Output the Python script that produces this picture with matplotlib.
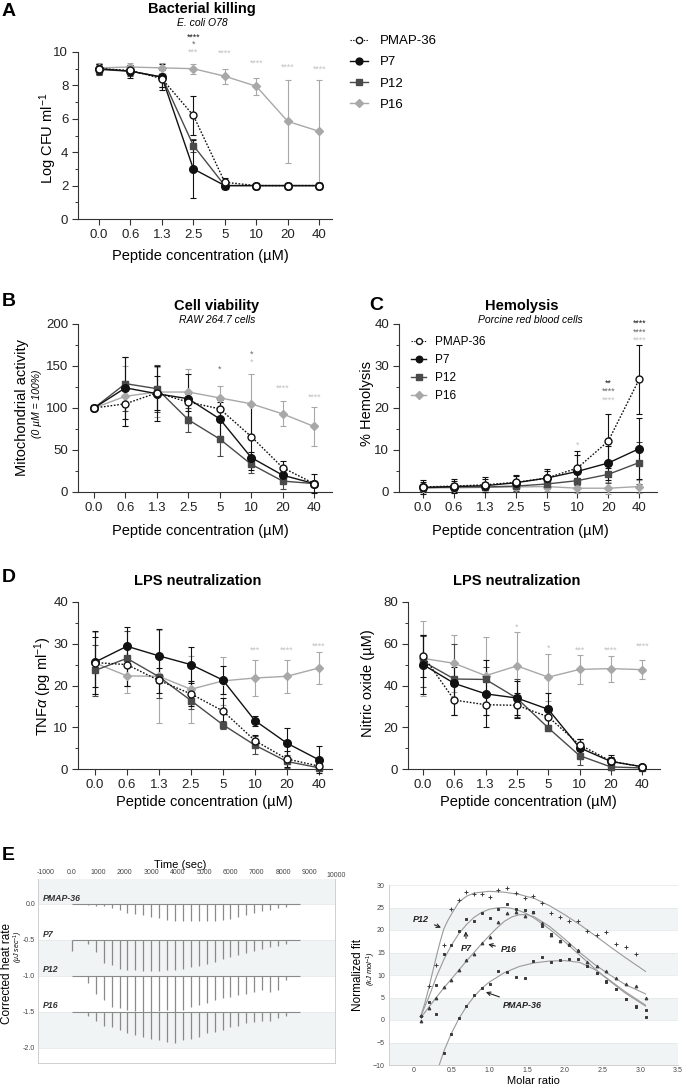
import matplotlib
matplotlib.use("Agg")
import numpy as np
import matplotlib.pyplot as plt
from matplotlib.lines import Line2D
from matplotlib.ticker import MultipleLocator

plt.rcParams['font.family'] = ['Liberation Sans', 'DejaVu Sans']
plt.rcParams['mathtext.fontset'] = 'custom'
plt.rcParams['mathtext.rm'] = 'Liberation Sans'
plt.rcParams['mathtext.it'] = 'Liberation Sans:italic'
plt.rcParams['mathtext.bf'] = 'Liberation Sans:bold'

# ---------------- data ----------------
conc_labels = ["0.0", "0.6", "1.3", "2.5", "5", "10", "20", "40"]
peptides = ["PMAP-36", "P7", "P12", "P16"]

# A: bacterial killing (log CFU/ml)
kill_pmap = [9.0, 8.9, 8.4, 6.2, 2.2, 2.0, 2.0, 2.0]
kill_pmap_err = [0.3, 0.3, 0.5, 1.15, 0.25, 0.05, 0.05, 0.05]
kill_p7 = [9.0, 8.85, 8.5, 3.0, 2.0, 2.0, 2.0, 2.0]
kill_p7_err = [0.3, 0.4, 0.8, 1.75, 0.05, 0.05, 0.05, 0.05]
kill_p12 = [8.95, 8.85, 8.5, 4.4, 2.0, 2.0, 2.0, 2.0]
kill_p12_err = [0.3, 0.3, 0.6, 0.4, 0.05, 0.05, 0.05, 0.05]
kill_p16 = [9.05, 9.1, 9.05, 9.0, 8.55, 7.95, 5.85, 5.25]
kill_p16_err = [0.3, 0.25, 0.3, 0.3, 0.45, 0.5, 2.5, 3.05]
kill_stars = [(3, 10.9, "****", "k"), (3, 10.45, "*", "d"), (3, 10.0, "***", "l"),
              (4, 9.95, "****", "l"), (5, 9.35, "****", "l"), (6, 9.1, "****", "l"),
              (7, 8.95, "****", "l")]

# B: cell viability (%)
viab_pmap = [100, 105, 118, 107, 99, 66, 29, 10]
viab_pmap_err = [0, 27, 20, 10, 10, 40, 8, 3]
viab_p7 = [100, 124, 117, 111, 87, 41, 20, 10]
viab_p7_err = [0, 37, 33, 29, 20, 7, 6, 11]
viab_p12 = [100, 129, 123, 86, 63, 33, 13, 10]
viab_p12_err = [0, 32, 28, 14, 20, 10, 10, 3]
viab_p16 = [100, 114, 119, 119, 112, 105, 93, 78]
viab_p16_err = [0, 36, 30, 28, 14, 36, 15, 23]
viab_stars = [(4, 146, "*", "d"), (5, 164, "*", "d"), (5, 155, "*", "l"),
              (6, 123, "****", "l"), (7, 113, "****", "l")]

# C: hemolysis (%)
hemo_pmap = [1.2, 1.4, 1.7, 2.3, 3.3, 5.7, 12.1, 26.8]
hemo_pmap_err = [1.6, 1.6, 1.8, 1.7, 2.2, 4.0, 6.4, 8.2]
hemo_p7 = [1.1, 1.3, 1.5, 2.2, 3.3, 4.9, 6.9, 10.3]
hemo_p7_err = [1.2, 1.4, 1.5, 1.6, 1.8, 3.8, 4.0, 7.3]
hemo_p12 = [1.0, 1.2, 1.2, 1.4, 1.9, 2.7, 4.2, 7.0]
hemo_p12_err = [1.0, 1.0, 1.1, 1.2, 1.3, 1.6, 2.0, 5.0]
hemo_p16 = [1.0, 1.0, 1.1, 1.2, 1.3, 0.9, 0.9, 1.3]
hemo_p16_err = [1.0, 1.0, 1.0, 1.0, 1.1, 1.2, 1.4, 1.6]
hemo_stars = [(5, 11.2, "*", "l"), (6, 25.9, "**", "k"), (6, 23.9, "****", "d"),
              (6, 21.9, "****", "l"), (7, 40.1, "****", "k"), (7, 38.1, "****", "d"),
              (7, 36.1, "****", "l")]

# D left: TNF-alpha (pg/ml)
tnf_pmap = [25.5, 25.0, 21.2, 18.0, 13.9, 6.8, 2.4, 0.7]
tnf_pmap_err = [7.5, 5.0, 3.0, 3.0, 3.0, 1.3, 2.0, 0.8]
tnf_p7 = [25.6, 29.4, 27.1, 25.0, 21.3, 11.6, 6.2, 2.2]
tnf_p7_err = [6.0, 4.6, 6.5, 4.3, 3.3, 1.2, 3.7, 3.2]
tnf_p12 = [23.6, 26.5, 22.1, 16.4, 10.6, 5.7, 1.8, 0.3]
tnf_p12_err = [6.0, 6.5, 5.0, 2.0, 1.0, 2.2, 1.5, 0.5]
tnf_p16 = [25.4, 22.3, 22.2, 19.1, 21.1, 21.8, 22.2, 24.2]
tnf_p16_err = [7.5, 4.2, 11.2, 8.0, 5.7, 4.2, 3.9, 3.8]
tnf_stars = [(5, 28.5, "***", "l"), (6, 28.5, "****", "l"), (7, 29.4, "****", "l")]

# D right: nitric oxide (uM)
no_pmap = [54.3, 33.0, 30.8, 30.5, 25.0, 11.6, 3.8, 1.0]
no_pmap_err = [10.0, 7.0, 5.0, 6.0, 5.0, 3.0, 2.0, 0.5]
no_p7 = [50.0, 41.0, 36.0, 34.0, 28.6, 10.2, 3.6, 1.1]
no_p7_err = [14.0, 8.0, 16.0, 8.0, 8.0, 4.0, 3.0, 0.5]
no_p12 = [51.5, 43.1, 42.9, 33.9, 19.7, 6.4, 1.0, 0.5]
no_p12_err = [12.0, 17.0, 6.0, 9.0, 1.5, 4.3, 1.5, 0.5]
no_p16 = [53.0, 50.6, 44.7, 49.4, 44.0, 47.7, 48.1, 47.6]
no_p16_err = [18.0, 13.5, 18.6, 16.0, 11.3, 7.0, 6.2, 4.5]
no_stars = [(3, 67.8, "*", "l"), (4, 58.0, "*", "l"), (5, 56.7, "***", "l"),
            (6, 56.7, "****", "l"), (7, 59.0, "****", "l")]

# E left: ITC thermograms, injection times (s) and peak depths (uJ/s)
inj_time = [600, 900, 1200, 1500, 1800, 2100, 2400, 2700, 3000, 3300, 3600, 3900, 4200,
            4500, 4800, 5100, 5400, 5700, 6000, 6300, 6600, 6900, 7200, 7500, 7800, 8100]
base_pmap, base_p7, base_p12, base_p16 = 0.0, -0.5, -1.0, -1.5
peak_pmap = [0.02, 0.03, 0.03, 0.05, 0.08, 0.12, 0.14, 0.16, 0.18, 0.20, 0.22, 0.23, 0.24,
             0.24, 0.24, 0.23, 0.23, 0.22, 0.21, 0.18, 0.16, 0.13, 0.10, 0.08, 0.06, 0.04]
peak_p7 = [0.05, 0.17, 0.32, 0.35, 0.40, 0.42, 0.42, 0.43, 0.43, 0.43, 0.42, 0.42, 0.40,
           0.38, 0.36, 0.33, 0.30, 0.27, 0.24, 0.21, 0.18, 0.15, 0.12, 0.10, 0.08, 0.06]
peak_p12 = [0.10, 0.25, 0.34, 0.43, 0.45, 0.47, 0.49, 0.50, 0.50, 0.49, 0.48, 0.50, 0.47,
            0.43, 0.41, 0.38, 0.34, 0.31, 0.29, 0.27, 0.25, 0.22, 0.20, 0.22, 0.20, 0.06]
peak_p16 = [0.05, 0.12, 0.19, 0.21, 0.25, 0.30, 0.32, 0.35, 0.37, 0.39, 0.42, 0.43, 0.39,
            0.37, 0.35, 0.30, 0.28, 0.25, 0.21, 0.19, 0.16, 0.14, 0.12, 0.12, 0.09, 0.05]
trace_start, trace_end = 0, 8650

# E right: normalized fit (kJ/mol) vs molar ratio
ratio = [0.10, 0.20, 0.30, 0.40, 0.50, 0.60, 0.70, 0.80, 0.91, 1.01, 1.12, 1.24, 1.35,
         1.47, 1.58, 1.70, 1.82, 1.94, 2.06, 2.18, 2.30, 2.43, 2.55, 2.68, 2.81, 2.94, 3.07]
nf_p12 = [1.0, 7.6, 12.3, 16.7, 24.7, 26.7, 28.5, 27.9, 28.1, 27.3, 29.0, 29.3, 28.3,
          27.2, 27.6, 26.1, 23.7, 23.0, 22.0, 22.0, 19.8, 19.0, 19.5, 17.0, 16.3, 14.7, None]
nf_p7 = [0.9, 3.9, 7.8, 14.7, 16.6, 19.8, 22.5, 21.9, 23.8, 22.7, 24.7, 25.8, 24.6,
         24.5, 24.0, 21.0, 19.2, 17.5, 16.6, 15.4, 11.9, 10.5, 8.6, 6.9, 4.6, 3.1, 0.7]
nf_p16 = [-0.15, 2.7, 5.0, 7.3, 8.8, 11.1, 13.4, 14.7, 17.1, 18.5, 21.8, 23.8, 24.0,
          23.2, 24.0, 21.5, 19.0, 17.6, 16.9, 15.6, 12.8, 12.0, 11.0, 9.4, 8.1, 7.6, 4.8]
nf_pmap = [None, None, 1.3, -7.4, -3.2, 0.4, 3.2, 5.6, 7.2, 8.1, 10.9, 10.6, 9.6,
           9.4, 13.1, 13.9, 12.9, 13.4, 13.5, 13.6, 11.9, 10.4, 8.4, 7.0, 4.6, 3.0, 2.2]
fit_p12_x = [0.10, 0.15, 0.20, 0.25, 0.30, 0.35, 0.40, 0.45, 0.50, 0.60, 0.70, 0.80, 1.00,
             1.20, 1.40, 1.60, 1.80, 2.00, 2.20, 2.40, 2.60, 2.80, 3.07]
fit_p12_y = [1.0, 3.8, 7.0, 10.5, 14.0, 17.3, 20.2, 22.0, 23.5, 26.2, 27.5, 28.2, 28.6,
             28.4, 27.9, 27.0, 25.4, 23.4, 21.2, 18.8, 16.3, 13.9, 10.8]
fit_p7_x = [0.10, 0.20, 0.30, 0.40, 0.50, 0.60, 0.70, 0.80, 0.90, 1.00, 1.10, 1.20, 1.30,
            1.40, 1.50, 1.60, 1.80, 2.00, 2.20, 2.40, 2.60, 2.80, 3.07]
fit_p7_y = [1.0, 5.0, 9.5, 13.4, 16.6, 19.2, 21.2, 22.8, 23.9, 24.6, 24.9, 25.0, 24.8,
            24.3, 23.6, 22.6, 20.2, 17.4, 14.4, 11.4, 8.6, 6.0, 3.1]
fit_p16_x = [0.10, 0.20, 0.30, 0.40, 0.50, 0.60, 0.70, 0.80, 0.90, 1.00, 1.10, 1.20, 1.30,
             1.40, 1.50, 1.60, 1.80, 2.00, 2.20, 2.40, 2.60, 2.80, 3.07]
fit_p16_y = [0.6, 2.8, 5.0, 7.1, 9.1, 11.1, 13.1, 15.0, 16.9, 18.7, 20.4, 21.9, 22.9,
             23.4, 23.4, 22.9, 20.8, 18.0, 15.0, 12.3, 10.0, 7.9, 5.8]
fit_pmap_x = [0.34, 0.40, 0.50, 0.60, 0.70, 0.80, 0.90, 1.00, 1.20, 1.40, 1.60, 1.80,
              2.00, 2.20, 2.40, 2.60, 2.80, 3.07]
fit_pmap_y = [-10.0, -7.0, -3.0, 0.3, 3.0, 5.2, 7.0, 8.4, 10.5, 11.9, 12.7, 13.1,
              13.2, 12.8, 11.2, 8.8, 6.3, 3.3]

# ---------------- styling ----------------
W, H = 685, 1089
fig = plt.figure(figsize=(W / 100, H / 100), dpi=100)


def box(l, t, r, b):
    return [l / W, 1 - b / H, (r - l) / W, (b - t) / H]


def ftext(x, y, s, **kw):
    fig.text(x / W, 1 - y / H, s, **kw)


black, dark, light = "#111111", "#4a4a4a", "#a8a8a8"
star_col = {"k": "#1a1a1a", "d": "#666666", "l": "#c0c0c0"}
style = {
    "PMAP-36": dict(color=black, ls=(0, (1.2, 1.2)), marker="o", mfc="white", mec=black, ms=5),
    "P7": dict(color=black, ls="-", marker="o", mfc=black, mec=black, ms=5.5),
    "P12": dict(color=dark, ls="-", marker="s", mfc=dark, mec=dark, ms=5),
    "P16": dict(color=light, ls="-", marker="D", mfc=light, mec=light, ms=4.5),
}


def legend_handles(lw, scale):
    hs = []
    for p in peptides:
        st = dict(style[p])
        st["ms"] = st["ms"] * scale
        st["lw"] = 0.8 if p == "PMAP-36" else lw
        hs.append(Line2D([], [], **st))
    return hs


def dose_panel(rect, vals, errs, ymax, major, minor, xlim, stars):
    ax = fig.add_axes(box(*rect))
    x = np.arange(len(conc_labels))
    for name in ["P16", "P12", "P7", "PMAP-36"]:
        st = style[name]
        ax.errorbar(x, vals[name], yerr=errs[name], lw=1.0, capsize=2.5,
                    elinewidth=0.8, capthick=0.8, ecolor=st["color"], label=name,
                    clip_on=False, zorder=3, **st)
    for i, y, s, c in stars:
        ax.text(i, y, s, ha="center", va="center", fontsize=6.3, color=star_col[c],
                clip_on=False)
    ax.set_xlim(*xlim)
    ax.set_ylim(0, ymax)
    ax.set_xticks(x)
    ax.set_xticklabels(conc_labels)
    ax.yaxis.set_major_locator(MultipleLocator(major))
    ax.yaxis.set_minor_locator(MultipleLocator(minor))
    for s in ["top", "right"]:
        ax.spines[s].set_visible(False)
    for s in ["left", "bottom"]:
        ax.spines[s].set_linewidth(0.8)
        ax.spines[s].set_color("#333333")
    ax.tick_params(which="major", direction="out", length=4, width=0.8, labelsize=9.5,
                   color="#333333", labelcolor="#222222", pad=3)
    ax.tick_params(which="minor", direction="out", length=2.5, width=0.7, color="#333333")
    return ax


# A
axA = dose_panel((78, 52, 332, 219),
                 {"PMAP-36": kill_pmap, "P7": kill_p7, "P12": kill_p12, "P16": kill_p16},
                 {"PMAP-36": kill_pmap_err, "P7": kill_p7_err, "P12": kill_p12_err, "P16": kill_p16_err},
                 10, 2, 1, (-0.67, 7.41), kill_stars)
fig.legend(legend_handles(1.0, 0.9), peptides, loc="upper left",
           bbox_to_anchor=(350 / W, 1 - 35 / H),
           frameon=False, fontsize=9.5, handlelength=1.4, handletextpad=0.9,
           labelspacing=0.68, borderpad=0, borderaxespad=0)

# B
axB = dose_panel((78, 324, 332, 492),
                 {"PMAP-36": viab_pmap, "P7": viab_p7, "P12": viab_p12, "P16": viab_p16},
                 {"PMAP-36": viab_pmap_err, "P7": viab_p7_err, "P12": viab_p12_err, "P16": viab_p16_err},
                 200, 50, 25, (-0.51, 7.57), viab_stars)

# C
axC = dose_panel((399, 324, 657, 492),
                 {"PMAP-36": hemo_pmap, "P7": hemo_p7, "P12": hemo_p12, "P16": hemo_p16},
                 {"PMAP-36": hemo_pmap_err, "P7": hemo_p7_err, "P12": hemo_p12_err, "P16": hemo_p16_err},
                 40, 10, 5, (-0.78, 7.58), hemo_stars)
fig.legend(legend_handles(1.0, 0.85), peptides, loc="upper left",
           bbox_to_anchor=(411 / W, 1 - 336 / H),
           frameon=False, fontsize=8.5, handlelength=1.3, handletextpad=0.7,
           labelspacing=0.5, borderpad=0, borderaxespad=0)

# D
axD1 = dose_panel((78, 602, 332, 769),
                  {"PMAP-36": tnf_pmap, "P7": tnf_p7, "P12": tnf_p12, "P16": tnf_p16},
                  {"PMAP-36": tnf_pmap_err, "P7": tnf_p7_err, "P12": tnf_p12_err, "P16": tnf_p16_err},
                  40, 10, 5, (-0.53, 7.41), tnf_stars)
axD2 = dose_panel((408, 602, 660, 769),
                  {"PMAP-36": no_pmap, "P7": no_p7, "P12": no_p12, "P16": no_p16},
                  {"PMAP-36": no_pmap_err, "P7": no_p7_err, "P12": no_p12_err, "P16": no_p16_err},
                  80, 20, 10, (-0.48, 7.57), no_stars)

# titles, labels
ftext(202, 9, "Bacterial killing", ha="center", va="center", fontsize=10.5, fontweight="bold")
ftext(202, 23, "E. coli O78", ha="center", va="center", fontsize=7.5, style="italic")
ftext(217, 306, "Cell viability", ha="center", va="center", fontsize=10.5, fontweight="bold")
ftext(217, 320, "RAW 264.7 cells", ha="center", va="center", fontsize=7.5, style="italic")
ftext(522, 306, "Hemolysis", ha="center", va="center", fontsize=10.5, fontweight="bold")
ftext(530, 320, "Porcine red blood cells", ha="center", va="center", fontsize=7.5, style="italic")
ftext(198, 581, "LPS neutralization", ha="center", va="center", fontsize=10.5, fontweight="bold")
ftext(517, 581, "LPS neutralization", ha="center", va="center", fontsize=10.5, fontweight="bold")

xl = "Peptide concentration (µM)"
for x, y in [(200, 256), (200, 531), (520, 531), (204, 802), (528, 802)]:
    ftext(x, y, xl, ha="center", va="center", fontsize=10.5)

ftext(48, 138, "Log CFU ml$^{-1}$", ha="center", va="center", rotation=90, fontsize=10.5)
ftext(22, 408, "Mitochondrial activity", ha="center", va="center", rotation=90, fontsize=10.5)
ftext(37, 404, "(0 µM = 100%)", ha="center", va="center", rotation=90, fontsize=7.5,
      style="italic")
ftext(367, 404, "% Hemolysis", ha="center", va="center", rotation=90, fontsize=10.5)
ftext(43, 686, r"TNF$\alpha$ (pg ml$^{-1}$)", ha="center", va="center", rotation=90, fontsize=10.5)
ftext(368, 683, "Nitric oxide (µM)", ha="center", va="center", rotation=90, fontsize=10.5)

for s, x, y in [("A", 9, 12), ("B", 9, 302), ("C", 376, 305), ("D", 9, 577), ("E", 8, 856)]:
    ftext(x, y, s, ha="center", va="center", fontsize=14, fontweight="bold")

# E left: thermogram
axE1 = fig.add_axes(box(38, 879, 335, 1063))
axE1.set_xlim(-1290, 9960)
axE1.set_ylim(-2.21, 0.347)
shade = "#f1f4f4"
for lo, hi in [(0.0, 0.5), (-1.0, -0.5), (-2.0, -1.5)]:
    axE1.axhspan(lo, hi, color=shade, lw=0, zorder=0)
for y in [0.0, -0.5, -1.0, -1.5, -2.0]:
    axE1.axhline(y, color="#e2e6e6", lw=0.5, zorder=0.5)
trace_col = "#8a8a8a"
names_e = ["PMAP-36", "P7", "P12", "P16"]
for name, base, peaks in zip(names_e, [base_pmap, base_p7, base_p12, base_p16],
                             [peak_pmap, peak_p7, peak_p12, peak_p16]):
    axE1.hlines(base, trace_start, trace_end, color=trace_col, lw=0.8)
    axE1.vlines(inj_time, base, np.array(peaks) * -1 + base, color=trace_col, lw=0.9)
    axE1.text(-1100, base + 0.02, name, ha="left", va="bottom", fontsize=6.3,
              fontweight="bold", style="italic", color="#333333")
axE1.vlines(trace_start, base_p7, base_p7 - 0.15, color=trace_col, lw=0.9)
axE1.xaxis.tick_top()
tick_t = [-1000, 0, 1000, 2000, 3000, 4000, 5000, 6000, 7000, 8000, 9000]
axE1.set_xticks(tick_t)
axE1.set_xticklabels(["-1000", "0.0"] + [str(t) for t in tick_t[2:]])
axE1.set_yticks([0.0, -0.5, -1.0, -1.5, -2.0])
axE1.set_yticklabels(["0.0", "-0.5", "-1.0", "-1.5", "-2.0"])
axE1.tick_params(length=0, labelsize=5, labelcolor="#444444", pad=2)
for s in axE1.spines.values():
    s.set_color("#c8c8c8")
    s.set_linewidth(0.6)
axE1.spines["top"].set_visible(False)
axE1.text(10000, 1.0, "10000", transform=axE1.get_xaxis_transform(), ha="center",
          va="bottom", fontsize=5, color="#444444", clip_on=False)
ftext(180, 865, "Time (sec)", ha="center", va="center", fontsize=8)
ftext(7, 973, "Corrected heat rate", ha="center", va="center", rotation=90, fontsize=8.5)
ftext(18, 947, r"($\mu$J sec$^{-1}$)", ha="center", va="center", rotation=90, fontsize=5,
      style="italic")

# E right: normalized fit
axE2 = fig.add_axes(box(389, 885, 678, 1065))
axE2.set_xlim(-0.325, 3.5)
axE2.set_ylim(-10, 30)
for lo, hi in [(20, 25), (10, 15), (0, 5), (-10, -5)]:
    axE2.axhspan(lo, hi, color=shade, lw=0, zorder=0)
for y in range(-10, 31, 5):
    axE2.axhline(y, color="#e2e6e6", lw=0.5, zorder=0.5)
fit_col = "#9a9a9a"
for fx, fy in [(fit_p12_x, fit_p12_y), (fit_p7_x, fit_p7_y), (fit_p16_x, fit_p16_y),
               (fit_pmap_x, fit_pmap_y)]:
    axE2.plot(fx, fy, color=fit_col, lw=0.8, zorder=2)
pt_col = "#3a3a3a"
for vals, mk, ms in [(nf_p12, "+", 2.8), (nf_p7, "s", 2.0), (nf_p16, "^", 2.0), (nf_pmap, "s", 2.0)]:
    xs = [r for r, v in zip(ratio, vals) if v is not None]
    ys = [v for v in vals if v is not None]
    axE2.plot(xs, ys, ls="none", marker=mk, ms=ms, color=pt_col, mew=0.7, zorder=3)
ann = dict(fontsize=6.5, fontweight="bold", style="italic", color="#222222",
           ha="center", va="center",
           arrowprops=dict(arrowstyle="->", color="#222222", lw=0.8, shrinkA=2, shrinkB=1))
axE2.annotate("P12", xy=(0.38, 20.4), xytext=(0.1, 22.4), **ann)
axE2.annotate("P7", xy=(0.69, 20.0), xytext=(0.70, 15.9), **ann)
axE2.annotate("P16", xy=(0.97, 16.9), xytext=(1.26, 15.7), **ann)
axE2.annotate("PMAP-36", xy=(0.94, 6.3), xytext=(1.44, 3.3), **ann)
axE2.set_xticks([0, 0.5, 1.0, 1.5, 2.0, 2.5, 3.0, 3.5])
axE2.set_xticklabels(["0", "0.5", "1.0", "1.5", "2.0", "2.5", "3.0", "3.5"])
axE2.set_yticks(range(-10, 31, 5))
axE2.tick_params(length=0, labelsize=5, labelcolor="#444444", pad=3)
axE2.tick_params(axis="x", pad=1.5)
for s in axE2.spines.values():
    s.set_color("#c8c8c8")
    s.set_linewidth(0.6)
axE2.spines["top"].set_visible(False)
axE2.spines["right"].set_visible(False)
ftext(533, 1081, "Molar ratio", ha="center", va="center", fontsize=8)
ftext(358, 975, "Normalized fit", ha="center", va="center", rotation=90, fontsize=8.5)
ftext(371, 968, r"(kJ mol$^{-1}$)", ha="center", va="center", rotation=90, fontsize=5.5,
      style="italic")

fig.savefig("out.png", dpi=100, facecolor="white")
